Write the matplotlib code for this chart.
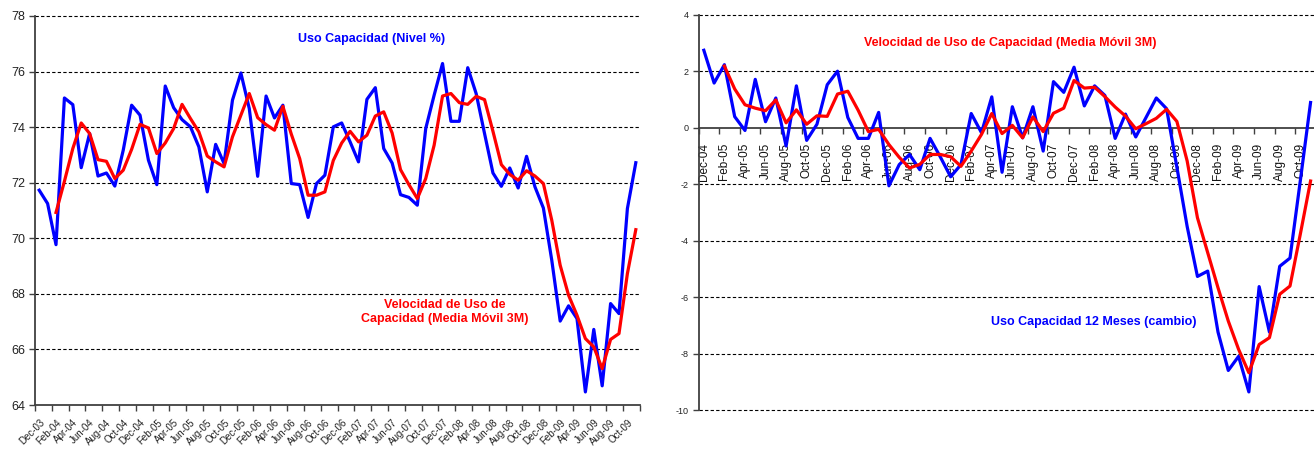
import matplotlib
matplotlib.use('Agg')
import matplotlib.pyplot as plt
import numpy as np

plt.rcParams['font.family'] = ['Liberation Sans', 'DejaVu Sans']
plt.rcParams['axes.unicode_minus'] = False

# etiquetas de meses (cada 2 meses)
etiquetas = ['Dec-03', 'Feb-04', 'Apr-04', 'Jun-04', 'Aug-04', 'Oct-04',
             'Dec-04', 'Feb-05', 'Apr-05', 'Jun-05', 'Aug-05', 'Oct-05',
             'Dec-05', 'Feb-06', 'Apr-06', 'Jun-06', 'Aug-06', 'Oct-06',
             'Dec-06', 'Feb-07', 'Apr-07', 'Jun-07', 'Aug-07', 'Oct-07',
             'Dec-07', 'Feb-08', 'Apr-08', 'Jun-08', 'Aug-08', 'Oct-08',
             'Dec-08', 'Feb-09', 'Apr-09', 'Jun-09', 'Aug-09', 'Oct-09']
etiquetas_12m = etiquetas[6:]

# Uso capacidad (nivel %), Dec-03 .. Nov-09
uso_nivel = [71.73, 71.25, 69.77, 75.05, 74.81, 72.54, 73.77, 72.24, 72.35, 71.88,
             73.17, 74.79, 74.43, 72.81, 71.93, 75.48, 74.70, 74.27, 74.01, 73.29,
             71.67, 73.38, 72.69, 74.97, 75.95, 74.67, 72.23, 75.12, 74.33, 74.79,
             71.97, 71.93, 70.75, 71.97, 72.27, 74.01, 74.15, 73.47, 72.75, 75.00,
             75.42, 73.23, 72.71, 71.57, 71.47, 71.19, 73.95, 75.15, 76.29, 74.21,
             74.21, 76.14, 75.21, 73.77, 72.35, 71.87, 72.53, 71.81, 72.95, 71.85,
             71.09, 69.21, 67.02, 67.57, 67.11, 64.47, 66.72, 64.69, 67.65, 67.29,
             71.07, 72.72]
# media movil 3M
media_nivel = [np.nan, np.nan,
               70.93, 72.05, 73.23, 74.15, 73.77, 72.83, 72.77, 72.15, 72.45, 73.20,
               74.10, 73.97, 73.05, 73.43, 73.95, 74.82, 74.31, 73.83, 72.96, 72.75,
               72.57, 73.65, 74.43, 75.21, 74.34, 74.09, 73.89, 74.75, 73.75, 72.87,
               71.55, 71.55, 71.67, 72.80, 73.43, 73.85, 73.47, 73.71, 74.40, 74.55,
               73.79, 72.47, 71.93, 71.43, 72.15, 73.35, 75.12, 75.21, 74.88, 74.82,
               75.11, 74.99, 73.85, 72.65, 72.30, 72.09, 72.43, 72.24, 71.97, 70.65,
               69.03, 67.95, 67.23, 66.39, 66.09, 65.31, 66.36, 66.57, 68.73, 70.31]

# Uso capacidad 12 meses (cambio), Dec-04 .. Nov-09
cambio_12m = [2.74, 1.58, 2.23, 0.39, -0.10, 1.71, 0.21, 1.05, -0.65, 1.48,
              -0.45, 0.12, 1.52, 2.00, 0.36, -0.38, -0.38, 0.54, -2.06, -1.31,
              -0.95, -1.49, -0.38, -1.04, -1.74, -1.31, 0.50, -0.18, 1.09, -1.58,
              0.74, -0.36, 0.74, -0.83, 1.63, 1.25, 2.14, 0.77, 1.48, 1.14,
              -0.38, 0.48, -0.33, 0.36, 1.05, 0.67, -1.40, -3.50, -5.27, -5.08,
              -7.24, -8.60, -8.10, -9.36, -5.63, -7.24, -4.91, -4.62, -1.89, 0.89]
media_12m = [np.nan, np.nan,
             2.18, 1.37, 0.81, 0.69, 0.60, 0.98, 0.17, 0.63,
             0.12, 0.42, 0.40, 1.19, 1.29, 0.62, -0.14, -0.06, -0.60, -1.05,
             -1.43, -1.30, -0.95, -0.95, -1.03, -1.37, -0.83, -0.24, 0.50, -0.21,
             0.08, -0.36, 0.38, -0.14, 0.51, 0.69, 1.67, 1.40, 1.43, 1.10,
             0.73, 0.41, -0.04, 0.14, 0.33, 0.65, 0.22, -1.18, -3.19, -4.43,
             -5.67, -6.85, -7.85, -8.68, -7.68, -7.44, -5.90, -5.61, -3.78, -1.89]

AZUL = '#0000ff'
ROJO = '#ff0000'
EJE = '#404040'
W, H = 1314, 450

fig = plt.figure(figsize=(W / 100, H / 100), dpi=100)
ax1 = fig.add_axes([35 / W, 45 / H, 605 / W, 389 / H])
ax2 = fig.add_axes([698.7 / W, 40 / H, 617 / W, 395.3 / H])

# ---- panel izquierdo ----
x1 = np.arange(len(uso_nivel))
ax1.plot(x1, uso_nivel, color=AZUL, lw=2.3, zorder=3)
ax1.plot(x1, media_nivel, color=ROJO, lw=2.3, zorder=4)
ax1.set_xlim(-0.5, len(uso_nivel) - 0.5)
ax1.set_ylim(64, 78)
ax1.set_yticks(range(64, 79, 2))
for y in range(66, 79, 2):
    ax1.axhline(y, color='black', lw=0.8, ls=(0, (3, 2)), zorder=1, clip_on=False)
ax1.set_xticks(np.arange(0, len(uso_nivel), 2))
ax1.set_xticklabels(etiquetas, rotation=45, ha='right', va='top',
                    rotation_mode='anchor', fontsize=7, color='#222222')
ax1.set_xticks(np.arange(-0.5, len(uso_nivel), 2), minor=True)
ax1.tick_params(axis='x', which='major', length=0, pad=9)
ax1.tick_params(axis='x', which='minor', length=4, color=EJE, width=1)
ax1.tick_params(axis='y', length=4, color=EJE, width=1, labelsize=9,
                labelcolor='#222222', pad=3)
for s in ['top', 'right']:
    ax1.spines[s].set_visible(False)
for s in ['left', 'bottom']:
    ax1.spines[s].set_color(EJE)
    ax1.spines[s].set_linewidth(1.3)

# ---- panel derecho ----
x2 = np.arange(len(cambio_12m))
ax2.plot(x2, cambio_12m, color=AZUL, lw=2.3, zorder=3)
ax2.plot(x2, media_12m, color=ROJO, lw=2.3, zorder=4)
ax2.set_xlim(-0.5, len(cambio_12m) - 0.5)
ax2.set_ylim(-10, 4)
ax2.set_yticks(range(-10, 5, 2))
for y in [4, 2, -2, -4, -6, -8, -10]:
    ax2.axhline(y, color='black', lw=0.8, ls=(0, (3, 2)), zorder=1, clip_on=False)
ax2.spines['bottom'].set_position(('data', 0))
ax2.set_xticks(np.arange(0, len(cambio_12m), 2))
ax2.set_xticklabels(etiquetas_12m, rotation=90, ha='center', va='top',
                    fontsize=8.5, color='#111111')
ax2.set_xticks(np.arange(-0.5, len(cambio_12m), 2), minor=True)
ax2.tick_params(axis='x', which='major', length=0, pad=11)
ax2.tick_params(axis='x', which='minor', length=4, color=EJE, width=1)
ax2.tick_params(axis='y', length=4, color=EJE, width=1, labelsize=6.5,
                labelcolor='#222222', pad=3)
for s in ['top', 'right']:
    ax2.spines[s].set_visible(False)
for s in ['left', 'bottom']:
    ax2.spines[s].set_color(EJE)
    ax2.spines[s].set_linewidth(1.3)

# ---- textos ----
def texto(px, py, s, color):
    fig.text(px / W, 1 - py / H, s, color=color, fontsize=9, fontweight='bold',
             ha='center', va='center', linespacing=1.2)

texto(372, 39, 'Uso Capacidad (Nivel %)', AZUL)
texto(445, 312, 'Velocidad de Uso de\nCapacidad (Media Móvil 3M)', ROJO)
texto(1010, 43, 'Velocidad de Uso de Capacidad (Media Móvil 3M)', ROJO)
texto(1094, 322, 'Uso Capacidad 12 Meses (cambio)', AZUL)

fig.savefig('out.png', dpi=100)
